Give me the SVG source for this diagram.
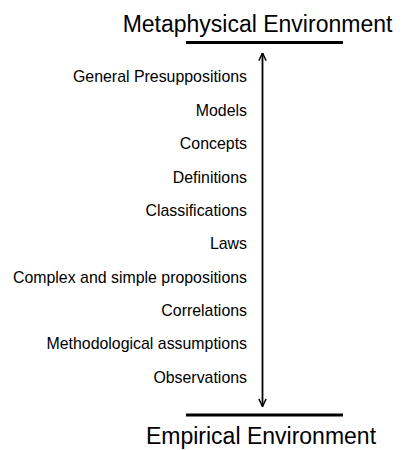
<svg xmlns="http://www.w3.org/2000/svg" width="406" height="450" viewBox="0 0 406 450">
<style>
.t{font-family:"Liberation Sans",Arial,sans-serif;fill:#000}
.h{font-size:23px;text-anchor:middle}
.l{font-size:15.9px;text-anchor:end}
.bar{stroke:#000;stroke-width:2.8}
</style>
<defs>
<marker id="ah" viewBox="0 0 10 10" refX="9.5" refY="5" markerWidth="9" markerHeight="9" orient="auto-start-reverse" markerUnits="userSpaceOnUse">
<path d="M1,1 L9.5,5 L1,9" fill="none" stroke="#000" stroke-width="1.6"/>
</marker>
</defs>
<rect width="406" height="450" fill="#fff"/>
<g id="top"><text class="t h" x="257.5" y="32">Metaphysical Environment</text><line class="bar" x1="186" y1="42.5" x2="343" y2="42.5"/></g>
<g id="bottom"><line class="bar" x1="186" y1="415" x2="343" y2="415"/><text class="t h" x="261" y="444">Empirical Environment</text></g>
<g id="connectors"><line x1="262.5" y1="53" x2="262.5" y2="406.5" stroke="#000" stroke-width="1.8" marker-start="url(#ah)" marker-end="url(#ah)"/></g>
<g id="labels">
<text class="t l" x="247" y="82">General Presuppositions</text>
<text class="t l" x="247" y="115.5">Models</text>
<text class="t l" x="247" y="149">Concepts</text>
<text class="t l" x="247" y="182.5">Definitions</text>
<text class="t l" x="247" y="216">Classifications</text>
<text class="t l" x="247" y="249">Laws</text>
<text class="t l" x="247" y="282.5">Complex and simple propositions</text>
<text class="t l" x="247" y="316">Correlations</text>
<text class="t l" x="247" y="349">Methodological assumptions</text>
<text class="t l" x="247" y="382.5">Observations</text>
</g>
</svg>
